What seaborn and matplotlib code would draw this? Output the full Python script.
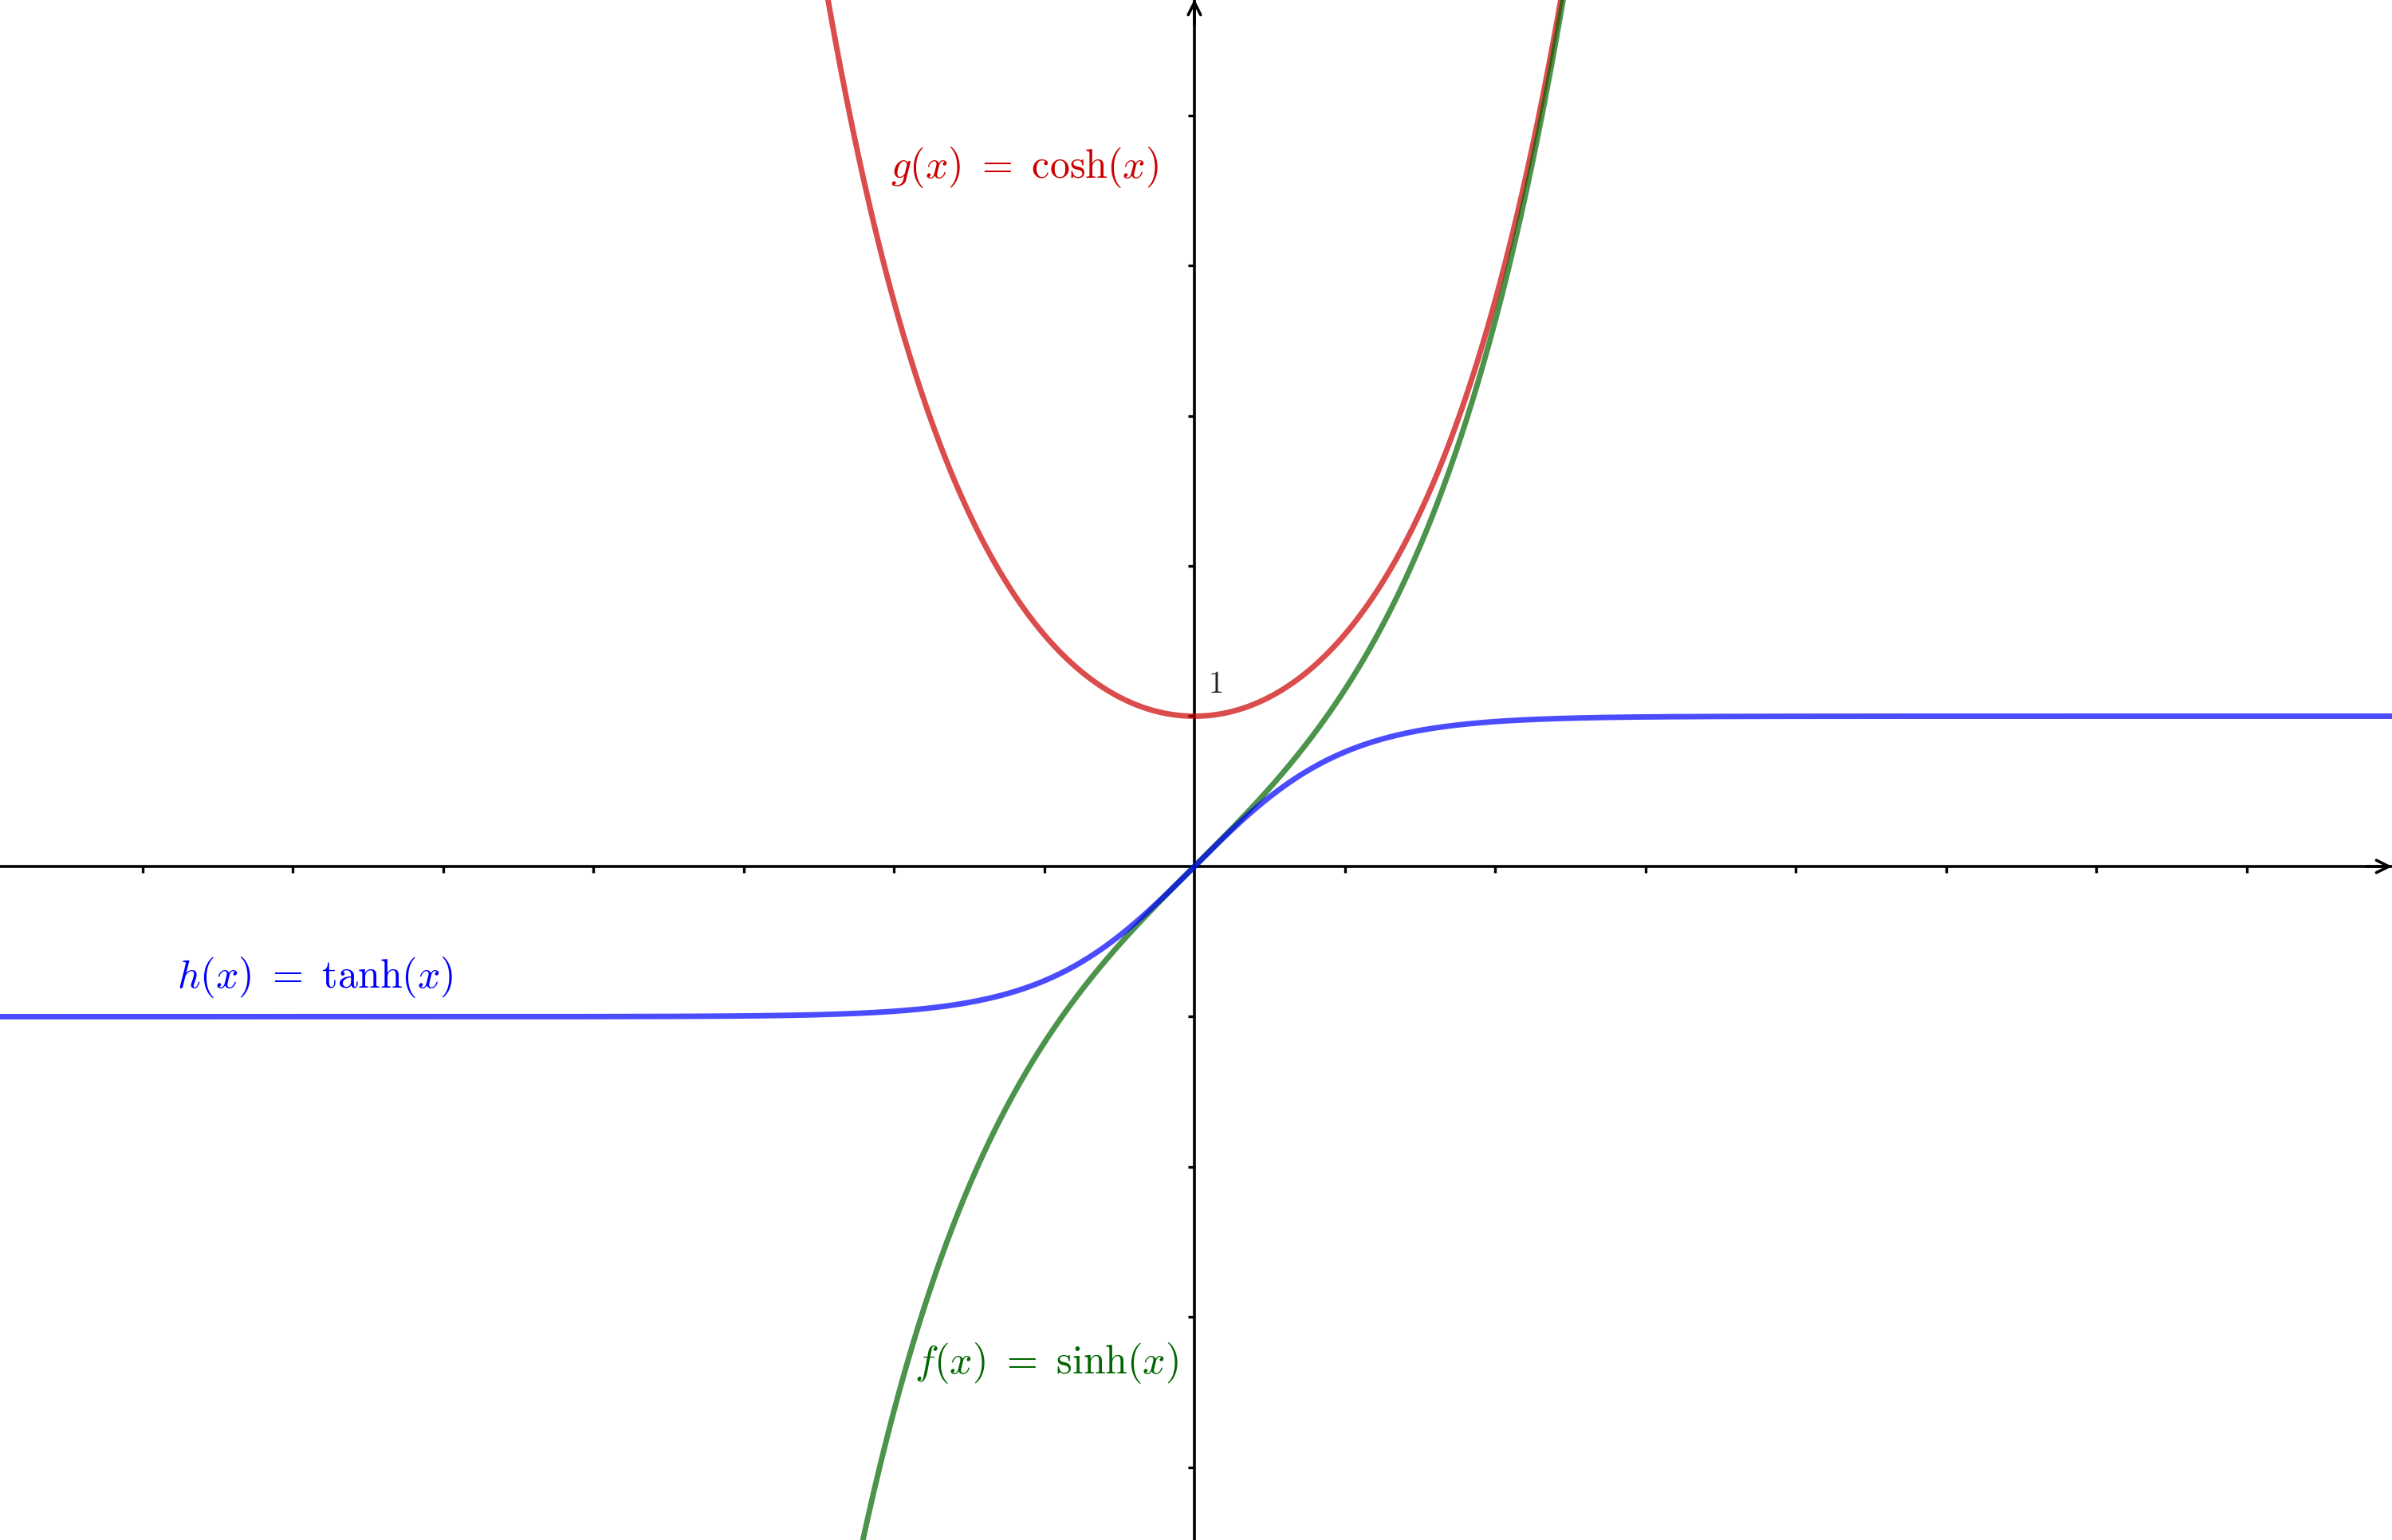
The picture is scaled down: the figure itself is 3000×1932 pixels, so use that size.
import matplotlib
matplotlib.use("Agg")
import matplotlib.pyplot as plt
import seaborn as sns
import numpy as np
import pandas as pd

# fonctions tracées
x = np.linspace(-8, 8, 1601)
g_vals = np.cosh(x)
f_vals = np.sinh(x)
h_vals = np.tanh(x)

names = ["g", "f", "h"]
labels = [r"$g(x)\ =\ \cosh(x)$", r"$f(x)\ =\ \sinh(x)$", r"$h(x)\ =\ \tanh(x)$"]
line_colors = ["#cc0000", "#006600", "#0000ff"]
label_pos = [(-2.02, 4.66), (-1.86, -3.30), (-6.77, -0.73)]

x_ticks = [-7, -6, -5, -4, -3, -2, -1, 1, 2, 3, 4, 5, 6, 7]
y_ticks = [-4, -3, -2, -1, 1, 2, 3, 4, 5]

df = pd.concat([
    pd.DataFrame({"x": x, "y": g_vals, "fn": "g"}),
    pd.DataFrame({"x": x, "y": f_vals, "fn": "f"}),
    pd.DataFrame({"x": x, "y": h_vals, "fn": "h"}),
])

sns.set_style("white")
plt.rcParams["mathtext.fontset"] = "cm"

fig = plt.figure(figsize=(15, 9.665), dpi=200)
ax = fig.add_axes([0, 0, 1, 1])

sns.lineplot(data=df, x="x", y="y", hue="fn", hue_order=names,
             palette=dict(zip(names, line_colors)), linewidth=2.5, alpha=0.7,
             legend=False, sort=False, estimator=None, ax=ax)

ax.set_xlim(-7.947, 7.968)
ax.set_ylim(-4.483, 5.772)

# axes passant par l'origine
for s in ["top", "right"]:
    ax.spines[s].set_visible(False)
for s in ["left", "bottom"]:
    ax.spines[s].set_position(("data", 0))
    ax.spines[s].set_linewidth(1.3)
    ax.spines[s].set_color("black")
    ax.spines[s].set_zorder(1)

ax.set_xticks(x_ticks)
ax.set_yticks(y_ticks)
ax.tick_params(axis="both", direction="out", length=2.8, width=1.2, color="black",
               bottom=True, left=True, labelbottom=False, labelleft=False)
ax.set_xlabel("")
ax.set_ylabel("")

# flèches
ax.annotate("", xy=(7.968, 0), xytext=(7.8, 0),
            arrowprops=dict(arrowstyle="->", lw=1.3, color="black",
                            mutation_scale=14, shrinkA=0, shrinkB=0))
ax.annotate("", xy=(0, 5.772), xytext=(0, 5.6),
            arrowprops=dict(arrowstyle="->", lw=1.3, color="black",
                            mutation_scale=14, shrinkA=0, shrinkB=0))

ax.text(0.09, 1.22, r"$1$", fontsize=14, color="#222222", va="center", ha="left")

for lab, col, (lx, ly) in zip(labels, line_colors, label_pos):
    ax.text(lx, ly, lab, color=col, fontsize=18, va="center", ha="left")

plt.savefig("out.png", dpi=200)
